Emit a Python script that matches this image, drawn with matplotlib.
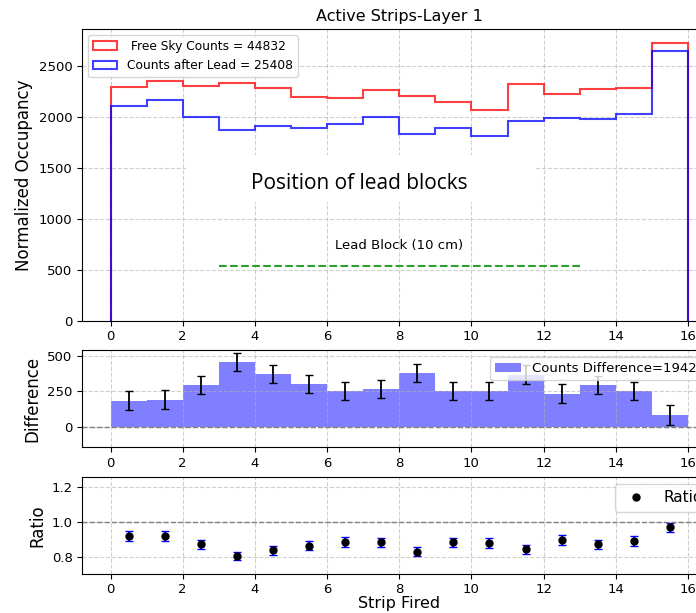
import numpy as np
import matplotlib
matplotlib.use("Agg")
import matplotlib.pyplot as plt
from matplotlib.patches import Rectangle

# Strip bin edges and normalized occupancy per strip
strip_edges = np.arange(0, 17)
free_sky = [2288, 2353, 2298, 2333, 2284, 2193, 2186, 2262,
            2206, 2141, 2066, 2327, 2220, 2275, 2284, 2725]
after_lead = [2105, 2161, 2003, 1875, 1914, 1894, 1934, 1995,
              1829, 1888, 1816, 1960, 1986, 1979, 2031, 2642]

# Raw totals quoted in the legends
free_total = 44832
lead_total = 25408

# Lead block extent (strip units) and its drawing height
lead_block_x = [3, 13]
lead_block_y = [540, 540]

free_sky = np.array(free_sky, dtype=float)
after_lead = np.array(after_lead, dtype=float)
centers = strip_edges[:-1] + 0.5

diff = free_sky - after_lead
diff_err = np.sqrt(free_sky + after_lead)
ratio = after_lead / free_sky
ratio_err = ratio * np.sqrt(1.0 / free_sky + 1.0 / after_lead)

fig = plt.figure(figsize=(6.96, 6.13), dpi=100)
gs = fig.add_gridspec(3, 1, height_ratios=[3, 1, 1], left=0.1173, right=1.030,
                      top=0.9527, bottom=0.0636, hspace=0.18)
ax1 = fig.add_subplot(gs[0])
ax2 = fig.add_subplot(gs[1])
ax3 = fig.add_subplot(gs[2])

grid_kw = dict(linestyle="--", linewidth=0.8, alpha=0.6)

# --- Occupancy histograms ---
ax1.hist(centers, bins=strip_edges, weights=free_sky, histtype="step",
         color="red", lw=1.5, alpha=0.75,
         label=f" Free Sky Counts = {free_total}")
ax1.hist(centers, bins=strip_edges, weights=after_lead, histtype="step",
         color="blue", lw=1.5, alpha=0.75,
         label=f"Counts after Lead = {lead_total}")
ax1.add_patch(Rectangle((2.08, 1162), 9.69, 469, facecolor="white",
                        edgecolor="none", zorder=1.8))
ax1.text(6.9, 1350, "Position of lead blocks", fontsize=15,
         family="Open Sans", ha="center", va="center", zorder=3)
ax1.text(8, 740, "Lead Block (10 cm)", fontsize=9.5, ha="center", va="center")
ax1.plot(lead_block_x, lead_block_y, "--", color="C2", lw=1.5)
ax1.set_xlim(-0.8, 16.8)
ax1.set_xticks(np.arange(0, 17, 2))
ax1.set_ylabel("Normalized Occupancy", fontsize=12)
ax1.set_title("Active Strips-Layer 1", fontsize=11.5)
ax1.legend(loc="upper left", fontsize=8.8)
ax1.grid(True, **grid_kw)

# --- Difference panel ---
ax2.bar(strip_edges[:-1], diff, width=1, align="edge", color="blue", alpha=0.5,
        label=f"Counts Difference={free_total - lead_total}")
ax2.errorbar(centers, diff, yerr=diff_err, fmt="none", ecolor="black",
             capsize=3, lw=1.3)
ax2.axhline(0, color="gray", ls="--", lw=1)
ax2.set_xlim(-0.8, 16.8)
ax2.set_ylim(-146, 540)
ax2.set_xticks(np.arange(0, 17, 2))
ax2.set_yticks([0, 250, 500])
ax2.set_ylabel("Difference", fontsize=12)
ax2.legend(loc="upper right", fontsize=9.5)
ax2.grid(True, **grid_kw)

# --- Ratio panel ---
ax3.errorbar(centers, ratio, yerr=ratio_err, fmt="none", ecolor="blue",
             capsize=3, lw=1.3)
ax3.plot(centers, ratio, "o", color="black", ms=5, label="Ratio", zorder=3)
ax3.axhline(1.0, color="gray", ls="--", lw=1)
ax3.set_xlim(-0.8, 16.8)
ax3.set_ylim(0.7, 1.26)
ax3.set_xticks(np.arange(0, 17, 2))
ax3.set_yticks([0.8, 1.0, 1.2])
ax3.set_ylabel("Ratio", fontsize=12)
ax3.set_xlabel("Strip Fired", fontsize=11.5, labelpad=0)
ax3.legend(loc="upper right", fontsize=11)
ax3.grid(True, **grid_kw)

for ax in (ax1, ax2, ax3):
    ax.tick_params(labelsize=9.5, pad=3)

fig.savefig("out.png", dpi=100)
